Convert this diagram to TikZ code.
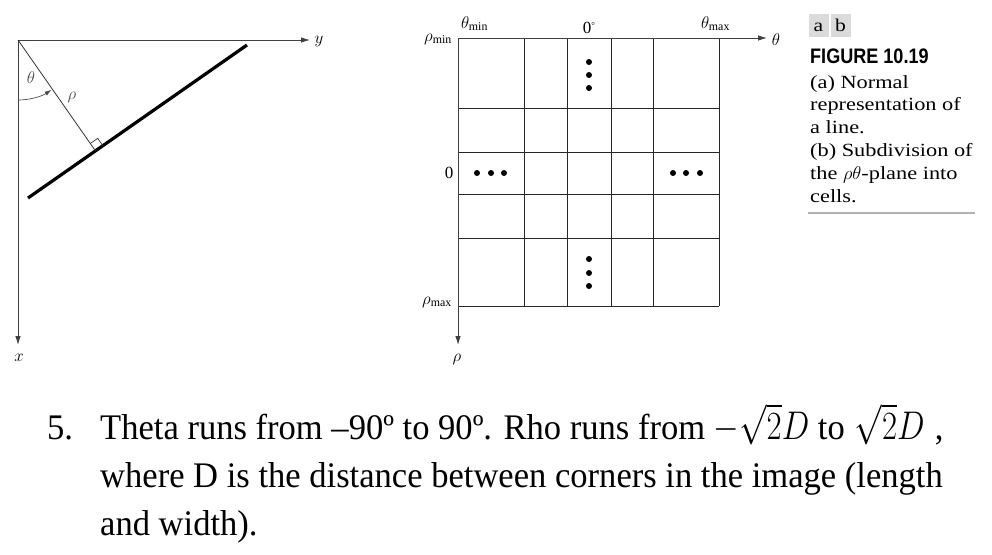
\RequirePackage{fix-cm}
\documentclass[tikz,border=0pt]{standalone}
\usepackage{graphicx}
\usepackage{fontspec}
\setmainfont{Liberation Serif}
\newfontfamily\bodyfont[FakeStretch=0.96]{Liberation Serif}
\newfontfamily\capfont[FakeStretch=1.2]{Liberation Serif}
\newfontfamily\figfont[FakeStretch=0.86]{Liberation Sans}
\usetikzlibrary{arrows.meta,calc}

\tikzset{
	axis/.style={draw=black!75, line width=0.9pt, -{Latex[length=9pt,width=5.5pt]}},
	cellline/.style={draw=black!85, line width=1pt},
	lbl/.style={inner sep=0pt, font=\fontsize{17}{19}\selectfont},
	dot/.style={circle, fill=black, inner sep=0pt, minimum size=6pt},
	abbox/.style={fill=black!14, minimum width=20pt, minimum height=23pt, inner sep=0pt, text height=12pt, text depth=0pt, font=\capfont\fontsize{18}{20}\selectfont},
	capline/.style={anchor=base west, inner sep=0pt, font=\capfont\fontsize{18.6}{20}\selectfont},
	bodyline/.style={anchor=base west, inner sep=0pt, font=\bodyfont\fontsize{36}{40}\selectfont},
}
\newcommand{\bigmath}[1]{\scalebox{0.82}[1]{\fontsize{40}{40}\selectfont$#1$}}

\begin{document}
\begin{tikzpicture}[x=1pt, y=-1pt]
		\useasboundingbox (0,0) rectangle (992,554);

		% (a) normal representation of a line
		\coordinate (orig) at (18,40);
		\coordinate (yend) at (310,40);
		\coordinate (xend) at (18,345);
		\coordinate (lnA) at (28,198);
		\coordinate (lnB) at (247,45);
		\coordinate (foot) at ($(lnA)!(orig)!(lnB)$);

		\draw[axis] (orig) -- (yend);
		\draw[axis] (orig) -- (xend);
		\node[lbl] (ylab) at (319,41) {$y$};
		\node[lbl] (xlab) at (19,358) {$x$};

		\draw[line width=3.2pt] (lnA) -- (lnB);
		\draw[black!80, line width=0.8pt] (orig) -- (foot);

		% right angle mark
		\coordinate (raA) at ($(foot)!9pt!(orig)$);
		\coordinate (raB) at ($(foot)!9pt!(lnB)$);
		\draw[black!80, line width=0.7pt] (raA) -- ($(raA)+(raB)-(foot)$) -- (raB);

		% angle theta
		\draw[black!70, line width=0.7pt, -{Latex[length=7pt,width=4.5pt]}] ($(orig)+(90:60)$) arc[start angle=90, end angle=56, radius=60];
		\node[lbl, text=black!70] (thlab) at (31,78) {$\theta$};
		\node[lbl, text=black!70] (rholab) at (72,97) {$\rho$};

		% (b) the rho-theta cells
		\coordinate (gorig) at (458,38);
		\coordinate (thend) at (767,38);
		\coordinate (rhend) at (458,345);

		\foreach \gx in {524,567,611,653,719}
			\draw[cellline] (\gx,38) -- (\gx,306);
		\foreach \gy in {108,152,194,238,306}
			\draw[cellline] (458,\gy) -- (719,\gy);

		\draw[axis] (gorig) -- (thend);
		\draw[axis] (gorig) -- (rhend);

		\node[lbl, anchor=base east] (rmin) at (452,41) {$\rho_{\mathrm{min}}$};
		\node[lbl, anchor=base east] (rmax) at (452,304) {$\rho_{\mathrm{max}}$};
		\node[lbl, anchor=base west] (tmin) at (461,28) {$\theta_{\mathrm{min}}$};
		\node[lbl, anchor=base west] (tmax) at (701,28) {$\theta_{\mathrm{max}}$};
		\node[lbl, anchor=base] (tzero) at (589,33) {0\raisebox{5pt}{\fontsize{9}{9}\selectfont°}};
		\node[lbl] (rzero) at (449,173) {0};
		\node[lbl] (thaxis) at (776,40) {$\theta$};
		\node[lbl] (rhaxis) at (457,359) {$\rho$};

		% the dots
		\foreach \dx [count=\k] in {477,491,504}
			\node[dot] (dl\k) at (\dx,173) {};
		\foreach \dx [count=\k] in {673,686,700}
			\node[dot] (dr\k) at (\dx,173) {};
		\foreach \dy [count=\k] in {62,75,88}
			\node[dot] (dt\k) at (589,\dy) {};
		\foreach \dy [count=\k] in {259,273,286}
			\node[dot] (db\k) at (589,\dy) {};

		% caption
		\node[abbox] (capa) at (818.5,25) {a};
		\node[abbox] (capb) at (840.5,25) {b};
		\node[anchor=base west, inner sep=0pt] (figno) at (810,63) {\figfont\bfseries\fontsize{21}{21}\selectfont FIGURE 10.19};
		\foreach \ln [count=\k from 0] in {{(a) Normal}, {representation of}, {a line.}, {(b) Subdivision of}, {the $\rho\theta$-plane into}, {cells.}}
			\node[capline] (cap\k) at (810,{88+22.8*\k}) {\ln};
		\draw[black!30, line width=2pt] (808,213) -- (975,213);

		% the text below
		\node[bodyline] (itemno) at (47,439) {5.};
		\node[bodyline] (bodyA) at (100,439) {Theta runs from –90º to 90º. Rho runs from \bigmath{-\sqrt{2}D} to\hspace{10pt}\bigmath{\sqrt{2}D}\hspace{10pt},};
		\node[bodyline] (bodyB) at (100,487) {where D is the distance between corners in the image (length};
		\node[bodyline] (bodyC) at (100,535) {and width).};

	\end{tikzpicture}
\end{document}
